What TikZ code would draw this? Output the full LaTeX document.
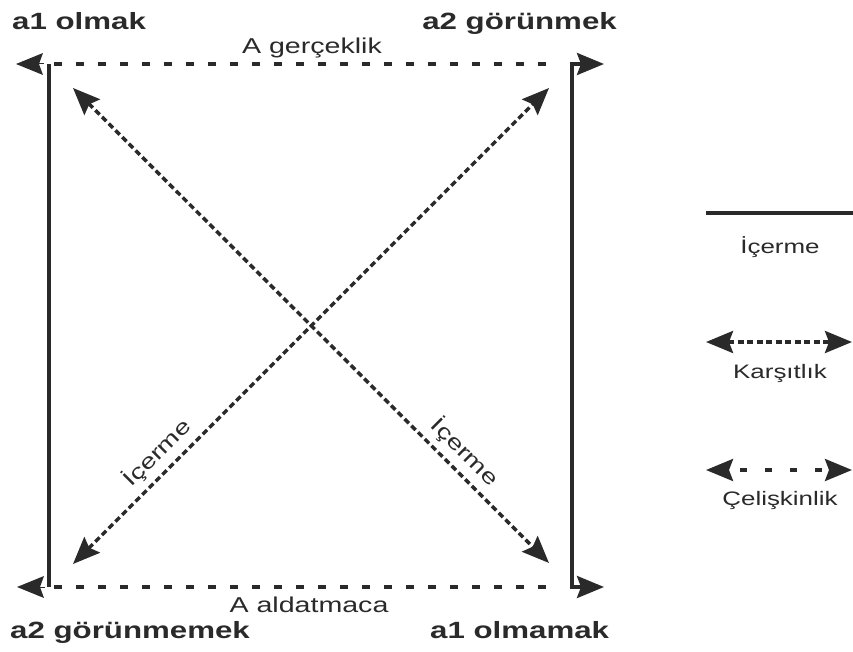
\documentclass[tikz,border=0pt]{standalone}
\usepackage{fontspec}
\setmainfont{Liberation Sans}[FakeStretch=1.33, BoldFeatures={FakeStretch=1.33}]
\usetikzlibrary{arrows.meta}
\definecolor{ink}{HTML}{2A2A2A}

\tikzset{
  head/.tip={Stealth[length=27pt,width=22pt,inset=4pt]},
  solidline/.style={draw=ink, line width=3.4pt},
  sparse/.style={draw=ink, line width=3.4pt, dash pattern=on 8pt off 14pt},
  dense/.style={draw=ink, line width=3.5pt, dash pattern=on 6pt off 3.5pt},
  corner/.style={font=\fontsize{23.5}{27}\selectfont\bfseries, text=ink, inner sep=0pt},
  caption/.style={font=\fontsize{21.5}{25}\selectfont, text=ink, inner sep=0pt},
  legendtext/.style={font=\fontsize{19.5}{23}\selectfont, text=ink, inner sep=0pt},
  diaglabel/.style={font=\fontsize{21}{25}\selectfont, text=ink, sloped, above=5pt, inner sep=1pt},
}

\begin{document}
\begin{tikzpicture}[x=1pt,y=-1pt]
\useasboundingbox (0,0) rectangle (853,652);

% corners of the square
\coordinate (TL) at (49,64);
\coordinate (TR) at (572,64);
\coordinate (BL) at (49,587);
\coordinate (BR) at (572,587);

% corner terms
\node[corner, anchor=base west] (olmak)      at (12,30)  {a1 olmak};
\node[corner, anchor=base east] (gorunmek)   at (617,30) {a2 görünmek};
\node[corner, anchor=base west] (gorunmemek) at (10,638) {a2 görünmemek};
\node[corner, anchor=base west] (olmamak)    at (430,638) {a1 olmamak};

% side captions
\node[caption, anchor=base] (gercek) at (312,54)  {A gerçeklik};
\node[caption, anchor=base] (aldat)  at (309,612) {A aldatmaca};

% top and bottom: contradiction
\coordinate (Tstart) at (54,64);  \coordinate (Tend) at (557,64);
\coordinate (Bstart) at (54,587); \coordinate (Bend) at (557,587);
\draw[sparse] (Tstart) -- (Tend);
\draw[sparse] (Bstart) -- (Bend);

% detached heads on the left
\coordinate (TLback) at (43,64);  \coordinate (TLtip) at (16,64);
\coordinate (BLback) at (44,587); \coordinate (BLtip) at (17,587);
\draw[draw=ink, line width=0pt, -{head[fill=ink]}] (TLback) -- (TLtip);
\draw[draw=ink, line width=0pt, -{head[fill=ink]}] (BLback) -- (BLtip);

% left side: implication
\draw[solidline] (TL) -- (BL);

% right side: implication turning into both heads
\coordinate (TRtip) at (604,64);
\coordinate (BRtip) at (604,587);
\draw[solidline, {head}-{head}] (TRtip) -- (TR) -- (BR) -- (BRtip);

% diagonals
\coordinate (dTL) at (73,88);
\coordinate (dBR) at (549,563);
\coordinate (dTR) at (549,88);
\coordinate (dBL) at (73,564);
\draw[dense, {head}-{head}] (dBL) -- node[diaglabel, pos=0.205] (ic1) {İçerme} (dTR);
\draw[dense, {head}-{head}] (dTL) -- node[diaglabel, pos=0.795] (ic2) {İçerme} (dBR);

% legend
\coordinate (L1a) at (706,213); \coordinate (L1b) at (853,213);
\draw[solidline] (L1a) -- (L1b);
\node[legendtext, anchor=base] (lg1) at (780,254) {İçerme};

\coordinate (L2a) at (706,342); \coordinate (L2b) at (852,342);
\draw[dense, {head}-{head}] (L2a) -- (L2b);
\node[legendtext, anchor=base] (lg2) at (780,378) {Karşıtlık};

\coordinate (L3a) at (706,470); \coordinate (L3b) at (852,470);
\draw[sparse, dash pattern=on 7pt off 18pt, dash phase=13pt, {head}-{head}] (L3a) -- (L3b);
\node[legendtext, anchor=base] (lg3) at (780,505) {Çelişkinlik};
\end{tikzpicture}
\end{document}
